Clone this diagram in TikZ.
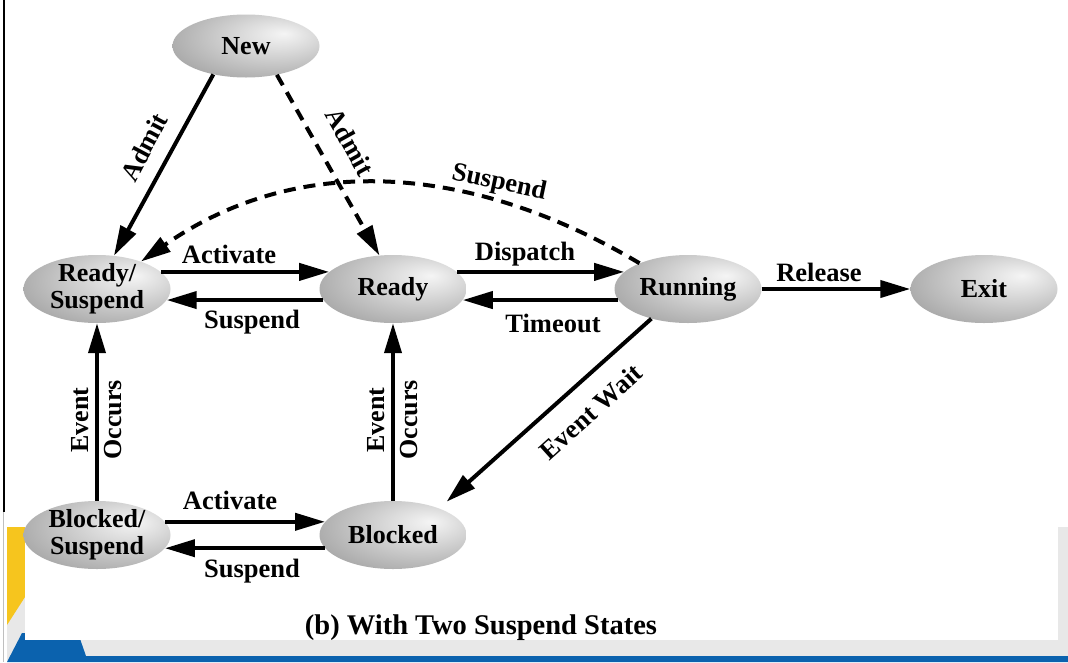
\documentclass[tikz,border=0pt]{standalone}
\usepackage{fontspec}
\setmainfont{Liberation Serif}
\usetikzlibrary{arrows.meta,shapes.geometric}

\definecolor{slidegrey}{HTML}{E8E8E8}
\definecolor{slideyellow}{HTML}{F6C51E}
\definecolor{slideblue}{HTML}{0B62AE}

% grey ball shading for the state ellipses, highlight up and to the right
\pgfdeclareradialshading{stateball}{\pgfpoint{13bp}{10bp}}{%
  color(0bp)=(white!96!black);
  color(12bp)=(white!86!black);
  color(35bp)=(white!66!black);
  color(55bp)=(white!52!black);
  color(75bp)=(white!50!black)}

\tikzset{
  state/.style={ellipse, minimum width=147pt, minimum height=68pt,
    inner sep=0pt, shade, shading=stateball},
  stxt/.style={font=\bfseries\fontsize{26}{27}\selectfont, align=center, inner sep=0pt},
  lbl/.style={font=\bfseries\fontsize{26.5}{30}\selectfont, inner sep=0pt},
  lbltwo/.style={font=\bfseries\fontsize{26}{33}\selectfont, align=center, inner sep=0pt},
  arr/.style={line width=4pt, -{Triangle[length=30pt,width=17pt]}},
  dsh/.style={arr, dash pattern=on 12pt off 8pt},
}

\begin{document}
\begin{tikzpicture}[x=1pt, y=-1pt]
\useasboundingbox (0,0) rectangle (1068,662);

% slide background behind the figure
\fill[slidegrey] (0,0) rectangle (1068,662);
\fill[white] (0,0) rectangle (1068,527);
\fill[white] (0,527) rectangle (7,662);
\fill[slideyellow] (7,527) -- (25,527) -- (25,597) -- (7,625) -- cycle;
\fill[slideblue] (7,662) -- (22,633) -- (78,633) -- (86,656) -- (1068,656) -- (1068,662) -- cycle;
\fill[white] (25,505) rectangle (1058,640);
\draw[line width=2pt] (3.5,0) -- (3.5,512);
\draw[line width=1.2pt, black!25] (3.5,512) -- (3.5,662);

% states
\node[state, minimum height=63pt, label={[stxt]center:New}] (new) at (246,46) {};
\node[state, label={[stxt]center:Ready/\\Suspend}] (rs) at (97,289) {};
\node[state, label={[stxt]center:Ready}] (rd) at (393,289) {};
\node[state, label={[stxt]center:Running}] (run) at (688,289) {};
\node[state, label={[stxt]center:Exit}] (exit) at (984,289) {};
\node[state, label={[stxt]center:Blocked/\\Suspend}] (bs) at (97,535) {};
\node[state, label={[stxt]center:Blocked}] (bl) at (393,535) {};

% transitions
\draw[arr] (new.221) -- (rs.63);
\draw[dsh] (new.317) -- (rd.112);
\draw[dsh] (run.152) .. controls (471,163) and (298,152) .. (rs.32);
\draw[arr] (rs.15) -- (rd.165);
\draw[arr] (rd.189) -- (rs.-9);
\draw[arr] (rd.15) -- (run.165);
\draw[arr] (run.189) -- (rd.-9);
\draw[arr] (run.east) -- (exit.west);
\draw[arr, shorten >=10pt] (run.219) -- (bl.30);
\draw[arr] (bs.north) -- (rs.south);
\draw[arr] (bl.north) -- (rd.south);
\draw[arr] (bs.11) -- (bl.169);
\draw[arr] (bl.191) -- (bs.-11);

% transition labels
\node[lbl] (tActA) at (229,254) {Activate};
\node[lbl] (tSusA) at (252,322) {Suspend};
\node[lbl] (tDisp) at (525,254) {Dispatch};
\node[lbl] (tTime) at (553,323) {Timeout};
\node[lbl] (tRel) at (819,272) {Release};
\node[lbl] (tActB) at (230,500) {Activate};
\node[lbl] (tSusB) at (252,571) {Suspend};
\node[lbl, rotate=62] (tAdmA) at (144,147) {Admit};
\node[lbl, rotate=-61] (tAdmB) at (350,142) {Admit};
\node[lbl, rotate=-12] (tSusC) at (499,183) {Suspend};
\node[lbl, rotate=42] (tWait) at (591,412) {Event Wait};
\node[lbltwo, rotate=90] (tOccA) at (97,420) {Event\\Occurs};
\node[lbltwo, rotate=90] (tOccB) at (393,420) {Event\\Occurs};

% caption
\node[lbl, font=\bfseries\fontsize{28.5}{32}\selectfont] (cap) at (481,628) {(b) With Two Suspend States};
\end{tikzpicture}
\end{document}
